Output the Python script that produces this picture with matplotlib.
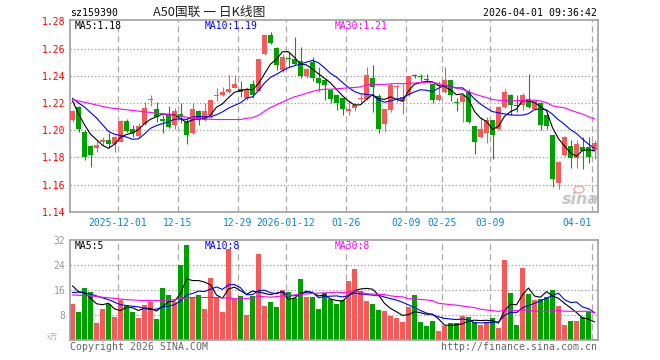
import matplotlib
matplotlib.use('Agg')
import matplotlib.pyplot as plt
import numpy as np
import pandas as pd

# ---------------- data ----------------
opens = [1.2073, 1.2167, 1.1990, 1.1883, 1.1870, 1.1910, 1.1927, 1.1900, 1.1914, 1.2069,
         1.2010, 1.1956, 1.2044, 1.2220, 1.2152, 1.2075, 1.2110, 1.2037, 1.2118, 1.2061,
         1.1980, 1.2142, 1.2073, 1.2110, 1.2250, 1.2257, 1.2277, 1.2311, 1.2306, 1.2233,
         1.2338, 1.2290, 1.2558, 1.2698, 1.2607, 1.2441, 1.2528, 1.2526, 1.2507, 1.2399,
         1.2502, 1.2384, 1.2372, 1.2294, 1.2257, 1.2237, 1.2140, 1.2164, 1.2228, 1.2228,
         1.2384, 1.2252, 1.2044, 1.2147, 1.2316, 1.2215, 1.2264, 1.2399, 1.2395, 1.2375,
         1.2338, 1.2220, 1.2277, 1.2367, 1.2203, 1.2208, 1.2282, 1.2029, 1.1946, 1.1980,
         1.2073, 1.2012, 1.2171, 1.2257, 1.2182, 1.2184, 1.2232, 1.2159, 1.2201, 1.2110,
         1.1963, 1.1613, 1.1816, 1.1882, 1.1792, 1.1873, 1.1873, 1.1853]
highs = [1.2150, 1.2180, 1.2000, 1.1890, 1.1920, 1.1950, 1.1980, 1.1960, 1.2072, 1.2080,
         1.2040, 1.2050, 1.2208, 1.2260, 1.2208, 1.2110, 1.2176, 1.2160, 1.2198, 1.2090,
         1.2200, 1.2145, 1.2200, 1.2225, 1.2313, 1.2318, 1.2404, 1.2404, 1.2360, 1.2310,
         1.2367, 1.2526, 1.2700, 1.2722, 1.2610, 1.2563, 1.2575, 1.2685, 1.2612, 1.2455,
         1.2539, 1.2465, 1.2375, 1.2296, 1.2260, 1.2240, 1.2215, 1.2203, 1.2269, 1.2465,
         1.2477, 1.2265, 1.2157, 1.2350, 1.2330, 1.2343, 1.2397, 1.2411, 1.2410, 1.2410,
         1.2340, 1.2362, 1.2465, 1.2370, 1.2240, 1.2265, 1.2299, 1.2030, 1.2098, 1.2093,
         1.2078, 1.2175, 1.2306, 1.2265, 1.2257, 1.2270, 1.2411, 1.2220, 1.2210, 1.2120,
         1.1966, 1.1770, 1.1956, 1.1927, 1.1927, 1.1946, 1.1946, 1.1931]
lows = [1.2060, 1.1990, 1.1780, 1.1730, 1.1840, 1.1890, 1.1865, 1.1840, 1.1910, 1.1990,
        1.1950, 1.1950, 1.2040, 1.2180, 1.2060, 1.1980, 1.2015, 1.2010, 1.2050, 1.1897,
        1.1975, 1.2040, 1.2070, 1.2090, 1.2215, 1.2250, 1.2270, 1.2307, 1.2245, 1.2220,
        1.2240, 1.2285, 1.2555, 1.2630, 1.2440, 1.2430, 1.2465, 1.2480, 1.2380, 1.2380,
        1.2360, 1.2286, 1.2220, 1.2196, 1.2147, 1.2110, 1.2110, 1.2140, 1.2196, 1.2225,
        1.2135, 1.1976, 1.1983, 1.2130, 1.2208, 1.2122, 1.2250, 1.2380, 1.2355, 1.2355,
        1.2196, 1.2215, 1.2270, 1.2215, 1.2142, 1.2061, 1.2049, 1.1824, 1.1940, 1.1907,
        1.1785, 1.2000, 1.2165, 1.2110, 1.2130, 1.2150, 1.2160, 1.2150, 1.2000, 1.2005,
        1.1579, 1.1570, 1.1810, 1.1718, 1.1718, 1.1711, 1.1760, 1.1785]
closes = [1.2140, 1.2005, 1.1800, 1.1816, 1.1890, 1.1930, 1.1897, 1.1950, 1.2069, 1.1995,
          1.1980, 1.2029, 1.2166, 1.2230, 1.2093, 1.2070, 1.2025, 1.2140, 1.2093, 1.1963,
          1.2154, 1.2073, 1.2142, 1.2220, 1.2255, 1.2280, 1.2300, 1.2338, 1.2282, 1.2306,
          1.2257, 1.2526, 1.2698, 1.2641, 1.2482, 1.2539, 1.2522, 1.2490, 1.2399, 1.2448,
          1.2384, 1.2350, 1.2330, 1.2228, 1.2203, 1.2154, 1.2154, 1.2184, 1.2238, 1.2409,
          1.2318, 1.2012, 1.2154, 1.2330, 1.2320, 1.2245, 1.2397, 1.2395, 1.2390, 1.2370,
          1.2225, 1.2257, 1.2367, 1.2257, 1.2198, 1.2257, 1.2061, 1.1914, 1.2012, 1.2078,
          1.1963, 1.2171, 1.2282, 1.2184, 1.2178, 1.2262, 1.2171, 1.2215, 1.2037, 1.2029,
          1.1638, 1.1767, 1.1946, 1.1792, 1.1897, 1.1848, 1.1800, 1.1902]
volumes = [11.6, 9.1, 16.7, 15.6, 5.5, 10.0, 11.6, 7.5, 12.9, 10.9,
           9.2, 7.1, 11.3, 12.4, 6.8, 16.7, 14.5, 12.4, 24.2, 30.5,
           14.0, 14.5, 10.0, 19.9, 14.0, 8.9, 29.1, 13.2, 14.2, 8.1,
           14.2, 27.6, 11.0, 12.1, 10.7, 16.1, 15.3, 13.4, 19.6, 14.0,
           14.0, 10.0, 15.0, 13.1, 11.6, 12.9, 19.0, 22.8, 15.8, 12.6,
           11.6, 9.7, 9.4, 7.8, 7.1, 5.9, 10.7, 14.5, 5.9, 4.6,
           6.2, 3.0, 4.6, 5.5, 5.5, 7.8, 7.5, 5.9, 4.9, 5.9,
           7.1, 3.9, 25.7, 15.1, 4.9, 23.1, 14.8, 12.9, 13.2, 13.9,
           16.1, 11.0, 4.9, 6.2, 6.2, 7.5, 9.1, 0.4]

# moving-average values visible before each window is complete
ma5_lead = [1.2215, 1.2120, 1.2040, 1.1970]
ma10_lead = [1.2233, 1.2200, 1.2170, 1.2130, 1.2090, 1.2040, 1.1990, 1.1970, 1.1960]
ma30_lead = [1.2225, 1.2215, 1.2205, 1.2195, 1.2185, 1.2175, 1.2165, 1.2160, 1.2155, 1.2150,
             1.2145, 1.2140, 1.2135, 1.2130, 1.2125, 1.2120, 1.2115, 1.2110, 1.2105, 1.2095,
             1.2090, 1.2085, 1.2080, 1.2080, 1.2078, 1.2078, 1.2078, 1.2078, 1.2078]
vma5_lead = [17.4, 15.6, 15.2, 13.5]
vma10_lead = [15.3, 15.4, 15.2, 14.8, 14.2, 13.6, 13.0, 12.2, 11.4]
vma30_lead = [14.5, 14.4, 14.3, 14.2, 14.0, 13.8, 13.6, 13.4, 13.2, 13.0,
              12.9, 12.8, 12.7, 12.7, 12.7, 12.7, 12.8, 13.0, 13.3, 13.6,
              13.7, 13.7, 13.7, 13.7, 13.7, 13.6, 13.5, 13.3, 13.3]

tick_idx = [8, 18, 28, 36, 46, 56, 62, 70, 87]
tick_labels = ['2025-12-01', '12-15', '12-29', '2026-01-12', '01-26',
               '02-09', '02-25', '03-09', '04-01']
price_ticks = [1.14, 1.16, 1.18, 1.20, 1.22, 1.24, 1.26, 1.28]
vol_ticks = [8, 16, 24, 32]
price_legend = ['MA5:1.18', 'MA10:1.19', 'MA30:1.21']
vol_legend = ['MA5:5', 'MA10:8', 'MA30:8']
title_code = 'sz159390'
title_name = 'A50国联 一 日K线图'
timestamp = '2026-04-01 09:36:42'

# ---------------- style ----------------
RED = '#f55a5a'
GREEN = '#00a000'
MA_COLORS = ['#000000', '#0000ff', '#ff00ff']
GRID = '#aaaaaa'
FRAME = '#a0a0a0'
MONO = 'DejaVu Sans Mono'
W, H = 660, 360

fig = plt.figure(figsize=(W / 100, H / 100), dpi=100)
fig.patch.set_facecolor('white')

ax = fig.add_axes([70 / W, 1 - 212 / H, 528 / W, 192 / H])
axv = fig.add_axes([70 / W, 1 - 340.3 / H, 528 / W, 100 / H])

n = len(closes)
x = np.arange(n)
o = np.array(opens); c = np.array(closes); h = np.array(highs); l = np.array(lows)
v = np.array(volumes)
up = c >= o
cols = np.where(up, RED, GREEN)


def moving(values, window, lead):
    s = pd.Series(values).rolling(window).mean().to_numpy()
    s[:len(lead)] = lead
    return s


ma_p = [moving(c, 5, ma5_lead), moving(c, 10, ma10_lead), moving(c, 30, ma30_lead)]
ma_v = [moving(v, 5, vma5_lead), moving(v, 10, vma10_lead), moving(v, 30, vma30_lead)]

xlim = (-2.5 / 6, n - 2.5 / 6)
ylim = (1.1398, 1.2810)
px = (ylim[1] - ylim[0]) / 192.0

for a in (ax, axv):
    a.set_xlim(*xlim)
    for s in a.spines.values():
        s.set_color(FRAME)
        s.set_linewidth(1.2)
    a.set_facecolor('white')
    for t in tick_idx:
        a.axvline(t - 2.5 / 6, color=GRID, lw=0.9, dashes=(5, 3), zorder=0)

ax.set_ylim(*ylim)
axv.set_ylim(0, 32)
for yv in price_ticks[1:-1]:
    ax.axhline(yv, color=GRID, lw=0.9, dashes=(1.2, 1.6), zorder=0)
for yv in vol_ticks[:-1]:
    axv.axhline(yv, color=GRID, lw=0.9, dashes=(1.2, 1.6), zorder=0)

# candles
ax.vlines(x, l, h, colors=cols, lw=0.8, zorder=2)
body_lo = np.minimum(o, c)
body_h = np.maximum(np.abs(c - o), px * 1.2)
ax.bar(x, body_h, bottom=body_lo, width=5 / 6, color=cols, linewidth=0, zorder=3)
for m, col in zip(ma_p, MA_COLORS):
    ax.plot(x, m, color=col, lw=0.8, zorder=4)

# volume
axv.bar(x, v, width=5 / 6, color=cols, linewidth=0, zorder=2)
for m, col in zip(ma_v, MA_COLORS):
    axv.plot(x, m, color=col, lw=0.8, zorder=4)

# ticks
ax.set_yticks(price_ticks)
ax.set_yticklabels([f'{t:.2f}' for t in price_ticks], color='#ff0000', family=MONO, fontsize=7)
ax.tick_params(axis='y', length=0, pad=3.5)
ax.set_xticks([t - 2.5 / 6 for t in tick_idx])
ax.set_xticklabels(tick_labels, color='#0a86d0', family=MONO, fontsize=7)
ax.tick_params(axis='x', length=0, pad=4)
lab = ax.get_xticklabels()[-1]
lab.set_ha('right')
lab.set_x(tick_idx[-1] - 2.5 / 6 + 0.4)

axv.set_yticks(vol_ticks)
axv.set_yticklabels([str(t) for t in vol_ticks], color='#999999', family=MONO, fontsize=7)
axv.tick_params(axis='y', length=0, pad=3.5)
axv.set_xticks([])


def ftext(px_x, px_y, s, **kw):
    fig.text(px_x / W, 1 - px_y / H, s, **kw)


for xp, s, col in zip([75, 205, 335], price_legend, MA_COLORS):
    ftext(xp, 26, s, color=col, family=MONO, fontsize=7, va='center')
for xp, s, col in zip([75, 205, 335], vol_legend, MA_COLORS):
    ftext(xp, 246, s, color=col, family=MONO, fontsize=7, va='center')

ftext(70, 13, title_code, color='#000000', family=MONO, fontsize=7.1, va='center')
ftext(209, 12.5, title_name, color='#222222', family=['Noto Sans CJK SC', 'DejaVu Sans'],
      fontsize=9.2, va='center', ha='center', fontweight='medium')
ftext(597, 13, timestamp, color='#000000', family=MONO, fontsize=7.1, va='center', ha='right')
ftext(70, 346.5, 'Copyright 2026 SINA.COM', color='#666666', family=MONO, fontsize=7.1, va='center')
ftext(597, 346.5, 'http://finance.sina.com.cn', color='#666666', family=MONO, fontsize=7.1,
      va='center', ha='right')
ftext(58, 338, 'x万', color='#aaaaaa', family=['Noto Sans CJK SC', 'DejaVu Sans'], fontsize=5.5,
      va='center', ha='right')

# watermark
ftext(580, 200, 'sina', color='#b8b8b8', family='DejaVu Sans', fontsize=11.5, fontweight='bold',
      style='italic', va='center', ha='center', alpha=0.8)
fig.patches.append(matplotlib.patches.Ellipse((579 / W, 1 - 189.5 / H), 10 / W, 7 / H,
                                              transform=fig.transFigure, facecolor='none',
                                              edgecolor='#f0a0a0', lw=1.2, alpha=0.8))

fig.savefig('out.png', dpi=100, facecolor='white')
